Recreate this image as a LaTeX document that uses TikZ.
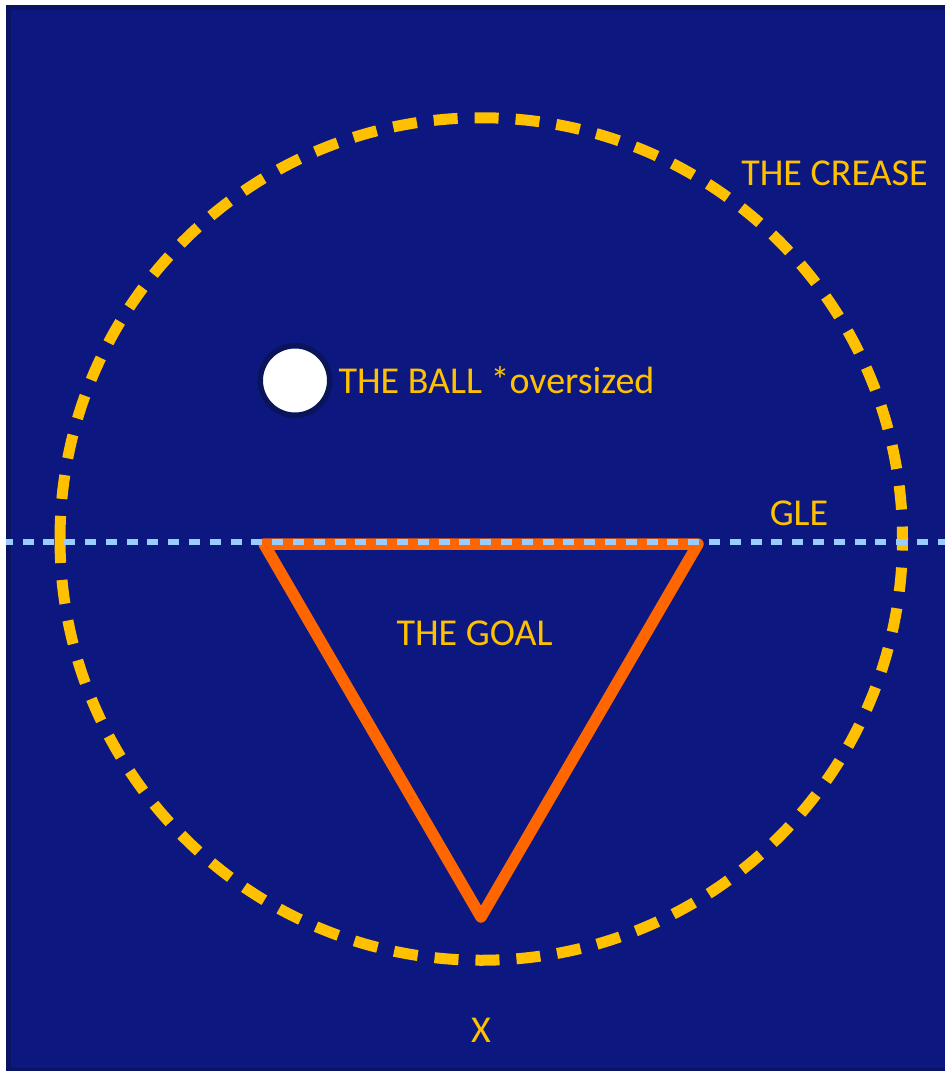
\documentclass[tikz,border=0pt]{standalone}
\usepackage{fontspec}
\setmainfont{Carlito}
\definecolor{navy}{RGB}{12,24,128}
\definecolor{navydark}{RGB}{10,19,100}
\definecolor{ballrim}{RGB}{10,20,90}
\definecolor{crease}{HTML}{FFC000}
\definecolor{goalc}{HTML}{FF6600}
\definecolor{glec}{HTML}{99CCFF}
\tikzset{
  lbl/.style={text=crease, inner sep=0pt, anchor=base, font=\fontsize{38}{42}\selectfont},
  creaseline/.style={draw=crease, line width=11pt, dash pattern=on 24pt off 17pt},
  goalline/.style={draw=goalc, line width=11.5pt, line join=round},
  gleline/.style={draw=glec, line width=5.5pt, dash pattern=on 11pt off 9.8pt, dash phase=4.3pt},
  ballstyle/.style={circle, fill=white, draw=ballrim, line width=5.5pt, minimum size=69.5pt, inner sep=0pt}
}
\begin{document}
\begin{tikzpicture}[x=1pt,y=-1pt]
\useasboundingbox (0,0) rectangle (945,1071);
\fill[white] (0,0) rectangle (945,1071);
\fill[navydark] (6,5) rectangle (945,1071);
\fill[navy] (11,10) rectangle (945,1068);
% crease
\coordinate (cc) at (481.25,539);
\draw[creaseline] ([xshift=-421.25pt]cc) arc[start angle=180, end angle=-180, radius=421.25];
% goal
\coordinate (g1) at (264,544);
\coordinate (g2) at (698,544);
\coordinate (g3) at (481,917);
\draw[goalline] (g1) -- (g2) -- (g3) -- cycle;
% GLE
\coordinate (gleL) at (6,542);
\coordinate (gleR) at (945,542);
\draw[gleline] (gleL) -- (gleR);
% ball
\node[ballstyle] (ball) at (295,380.5) {};
% labels
\node[lbl] (crease) at (834.5,185) {THE CREASE};
\node[lbl] (balltxt) at (496.5,393) {THE BALL *oversized};
\node[lbl] (gle) at (799,525) {GLE};
\node[lbl] (goal) at (474.5,645) {THE GOAL};
\node[lbl] (x) at (481,1042) {X};
\end{tikzpicture}
\end{document}
